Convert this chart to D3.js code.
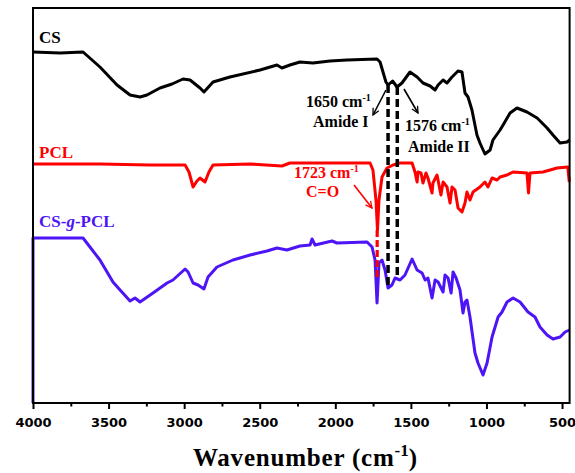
<!DOCTYPE html>
<html>
<head>
<meta charset="utf-8">
<script src="https://cdn.jsdelivr.net/npm/d3@7"></script>
<style>
  body { margin: 0; background: #fff; }
  text { font-family: "Liberation Serif", "Times New Roman", serif; font-weight: bold; }
</style>
</head>
<body>
<div id="chart"></div>
<script>
// chart size (matches the reference picture)
var width = 575
var height = 473
var margin = { top: 8, right: 5.4, bottom: 70, left: 33 }

// ---- data: FTIR spectra, transmittance in arbitrary units (offset per curve) ----
var wnCS = [4000, 3820, 3669, 3557, 3444, 3358, 3292, 3246, 3160, 3080, 3008, 2961, 2895, 2869, 2809, 2697,
  2498, 2386, 2353, 2300, 2234, 2148, 2035, 1923, 1724, 1704, 1665, 1651, 1621, 1592, 1559, 1506, 1459,
  1420, 1373, 1340, 1320, 1287, 1261, 1228, 1188, 1162, 1142, 1122, 1096, 1063, 1043, 1010, 976, 957,
  910, 890, 844, 798, 732, 665, 599, 560, 513, 467, 450]
var tCS = [351, 350, 351, 336, 318, 308, 306, 308, 315, 319, 324, 323, 315, 311, 321, 326,
  333, 338, 335, 338, 341, 340, 342, 343, 344, 341, 321, 318, 322, 316, 320, 331, 326,
  320, 317, 313, 318, 323, 320, 326, 332, 331, 310, 306, 293, 268, 260, 249, 253, 263,
  273, 278, 290, 295, 291, 285, 275, 268, 260, 261, 263]

var wnPCL = [4000, 3557, 3226, 2994, 2968, 2941, 2915, 2895, 2862, 2836, 2809, 2564, 2353, 2300, 1770, 1751,
  1731, 1721, 1711, 1691, 1658, 1618, 1572, 1492, 1473, 1459, 1453, 1433, 1420, 1400, 1387, 1360, 1354,
  1327, 1301, 1287, 1261, 1241, 1228, 1208, 1188, 1162, 1142, 1129, 1109, 1089, 1043, 1010, 990, 963,
  930, 910, 864, 824, 732, 722, 712, 626, 579, 533, 462, 452]
var tPCL = [239, 239, 238, 238, 231, 216, 222, 225, 221, 231, 238, 239, 237, 240, 240, 233,
  203, 173, 203, 226, 235, 238, 240, 240, 231, 221, 231, 230, 220, 230, 225, 210, 220,
  228, 208, 221, 216, 200, 216, 213, 195, 191, 200, 211, 203, 211, 216, 221, 216, 225,
  223, 226, 228, 231, 230, 210, 230, 231, 233, 235, 236, 221]

var wnGraft = [4000, 4000, 3669, 3557, 3471, 3424, 3358, 3325, 3292, 3206, 3113, 3074, 2994, 2974, 2941, 2908,
  2869, 2842, 2783, 2677, 2564, 2452, 2386, 2320, 2234, 2167, 2154, 2134, 2022, 1989, 1790, 1757, 1737,
  1724, 1711, 1691, 1671, 1651, 1625, 1605, 1572, 1539, 1492, 1459, 1426, 1406, 1387, 1360, 1340, 1320,
  1287, 1274, 1254, 1234, 1221, 1201, 1175, 1155, 1142, 1129, 1109, 1076, 1056, 1023, 996, 963, 923,
  897, 864, 824, 778, 725, 679, 646, 599, 560, 513, 480, 450]
var tGraft = [0, 165, 165, 143, 121, 113, 102, 105, 101, 110, 120, 123, 134, 131, 120, 118,
  114, 126, 136, 143, 148, 152, 155, 153, 157, 158, 164, 158, 162, 160, 161, 156, 143,
  100, 140, 143, 133, 115, 118, 125, 123, 128, 144, 133, 130, 123, 125, 105, 123, 121,
  111, 128, 125, 110, 131, 125, 113, 90, 101, 103, 86, 50, 40, 28, 40, 66, 86,
  91, 101, 105, 101, 91, 86, 76, 68, 64, 66, 71, 73]

var seriesNames = ["CS", "PCL", "CS-g-PCL"]
var seriesColors = ["#000000", "#ff0000", "#4d14f5"]

// axis ticks
var majorTicks = [4000, 3500, 3000, 2500, 2000, 1500, 1000, 500]
var minorTicks = [3750, 3250, 2750, 2250, 1750, 1250, 750]

// marked bands: wavenumber, from value, to value
var amideLines = [[1651, 318, 115], [1590, 316, 125]]
var carbonylLine = [1723, 173, 126]

// ---- svg ----
var svg = d3.select("#chart")
  .append("svg")
  .attr("width", width)
  .attr("height", height)

var x = d3.scaleLinear()
  .domain([4000, 450])
  .range([margin.left, width - margin.right])

var y = d3.scaleLinear()
  .domain([0, 395])
  .range([height - margin.bottom, margin.top])

var line = d3.line()
  .x(function(d) { return x(d[0]) })
  .y(function(d) { return y(d[1]) })

var spectra = [d3.zip(wnCS, tCS), d3.zip(wnPCL, tPCL), d3.zip(wnGraft, tGraft)]

// curves
svg.append("g")
  .selectAll("path")
  .data(spectra)
  .enter()
  .append("path")
  .attr("d", line)
  .attr("fill", "none")
  .attr("stroke", function(d, i) { return seriesColors[i] })
  .attr("stroke-width", 3)
  .attr("stroke-linejoin", "round")

// dashed guide lines
svg.selectAll(".amide")
  .data(amideLines)
  .enter()
  .append("line")
  .attr("x1", function(d) { return x(d[0]) })
  .attr("x2", function(d) { return x(d[0]) })
  .attr("y1", function(d) { return y(d[1]) })
  .attr("y2", function(d) { return y(d[2]) })
  .attr("stroke", "#000")
  .attr("stroke-width", 3.5)
  .attr("stroke-dasharray", "8,4")

svg.append("line")
  .attr("x1", x(carbonylLine[0]))
  .attr("x2", x(carbonylLine[0]))
  .attr("y1", y(carbonylLine[1]))
  .attr("y2", y(carbonylLine[2]))
  .attr("stroke", seriesColors[1])
  .attr("stroke-width", 3.2)
  .attr("stroke-dasharray", "7,3")

// frame
svg.append("rect")
  .attr("x", margin.left)
  .attr("y", margin.top)
  .attr("width", width - margin.left - margin.right)
  .attr("height", height - margin.top - margin.bottom)
  .attr("fill", "none")
  .attr("stroke", "#000")
  .attr("stroke-width", 2)

// bottom axis
var xAxis = svg.append("g")
  .attr("transform", "translate(0," + (height - margin.bottom) + ")")
  .call(d3.axisBottom(x).tickValues(majorTicks).tickFormat(d3.format("d"))
    .tickSize(6).tickSizeOuter(0).tickPadding(9))
xAxis.select(".domain").remove()
xAxis.selectAll("line").attr("stroke-width", 2)
xAxis.selectAll("text")
  .style("font-family", "'DejaVu Sans', Verdana, sans-serif")
  .style("font-weight", "bold")
  .style("font-size", "13px")
  .attr("fill", "#000")

var xMinor = svg.append("g")
  .attr("transform", "translate(0," + (height - margin.bottom) + ")")
  .call(d3.axisBottom(x).tickValues(minorTicks).tickSize(3.5).tickSizeOuter(0).tickFormat(""))
xMinor.select(".domain").remove()
xMinor.selectAll("line").attr("stroke-width", 2)

// axis title
var title = svg.append("text")
  .attr("x", 305)
  .attr("y", 466)
  .attr("text-anchor", "middle")
  .style("font-size", "25px")
title.append("tspan").text("Wavenumber (cm").style("letter-spacing", "0.8px")
title.append("tspan").text("-1").attr("dy", -10).style("font-size", "17px")
title.append("tspan").text(")").attr("dy", 10)

// curve names
var nameY = [43, 158, 227]
seriesNames.forEach(function(name, i) {
  var t = svg.append("text")
    .attr("x", 39)
    .attr("y", nameY[i])
    .attr("fill", seriesColors[i])
    .style("font-size", "17px")
  if (name === "CS-g-PCL") {
    t.append("tspan").text("CS-")
    t.append("tspan").text("g").style("font-style", "italic")
    t.append("tspan").text("-PCL")
  } else {
    t.text(name)
  }
})

// arrow heads
svg.append("defs").selectAll("marker")
  .data(seriesColors.slice(0, 2))
  .enter()
  .append("marker")
  .attr("id", function(d, i) { return "head" + i })
  .attr("viewBox", "0 0 10 10")
  .attr("refX", 9)
  .attr("refY", 5)
  .attr("markerWidth", 8)
  .attr("markerHeight", 8)
  .attr("markerUnits", "userSpaceOnUse")
  .attr("orient", "auto")
  .append("path")
  .attr("d", "M1,1L9,5L1,9")
  .attr("fill", "none")
  .attr("stroke", function(d) { return d })
  .attr("stroke-width", 1.6)

function arrow(x1, y1, x2, y2, c) {
  svg.append("line")
    .attr("x1", x1).attr("y1", y1).attr("x2", x2).attr("y2", y2)
    .attr("stroke", seriesColors[c])
    .attr("stroke-width", 1.6)
    .attr("marker-end", "url(#head" + c + ")")
}

function label(txt, sup, px, py, c) {
  var t = svg.append("text")
    .attr("x", px)
    .attr("y", py)
    .attr("fill", seriesColors[c])
    .style("font-size", "16px")
  t.append("tspan").text(txt)
  if (sup) {
    t.append("tspan").text(sup).attr("dy", -6).style("font-size", "10px")
  }
}

// annotations
arrow(386, 90, 373, 115, 0)
arrow(404, 89, 418, 113, 0)
arrow(354, 185, 372, 208, 1)

label("1650 cm", "-1", 306, 107, 0)
label("Amide I", null, 313, 127, 0)
label("1576 cm", "-1", 405, 131, 0)
label("Amide II", null, 408, 152, 0)
label("1723 cm", "-1", 294, 178, 1)
label("C=O", null, 306, 197, 1)
</script>
</body>
</html>
